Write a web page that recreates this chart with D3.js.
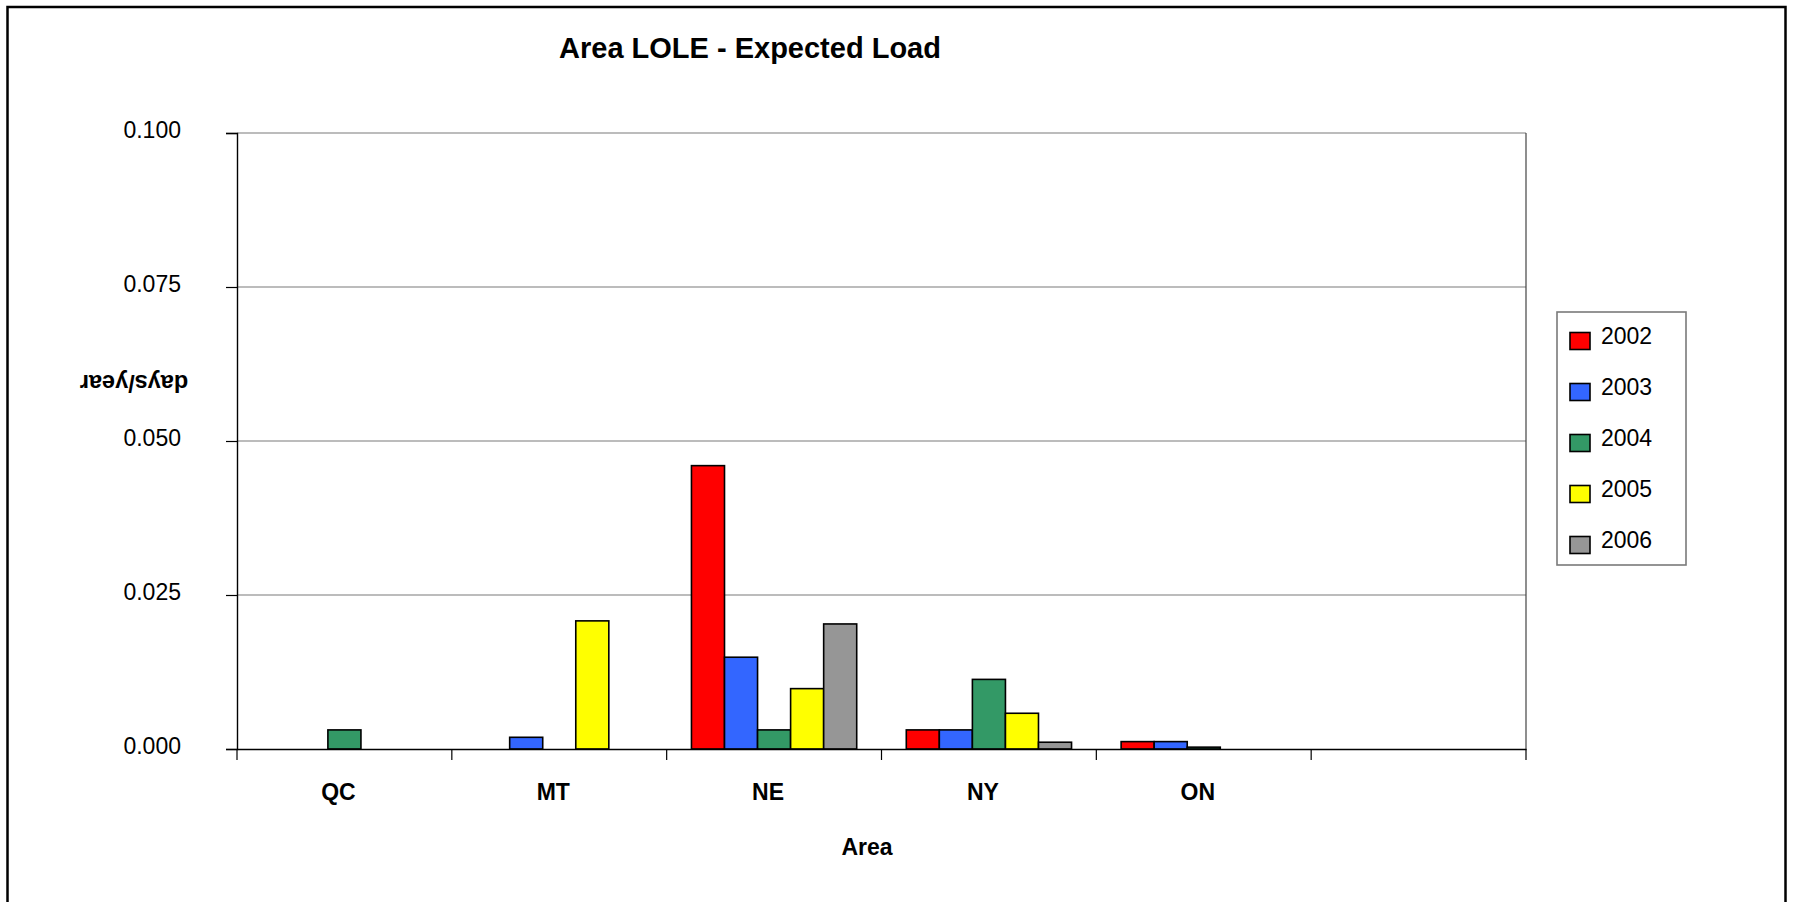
<!DOCTYPE html>
<html>
<head>
<meta charset="utf-8">
<script src="https://cdn.jsdelivr.net/npm/d3@7"></script>
<style>
  html, body { margin: 0; padding: 0; background: #fff; }
  svg { display: block; font-family: "Liberation Sans", Arial, sans-serif; }
</style>
</head>
<body>
<svg id="chart" width="1794" height="902"></svg>
<script>
// ---- data ----
const categories = ["QC", "MT", "NE", "NY", "ON", " "];
const seriesNames = ["2002", "2003", "2004", "2005", "2006"];
const s2002 = [0, 0, 0.0460, 0.0031, 0.0012, null];
const s2003 = [0, 0.0019, 0.0149, 0.0031, 0.0012, null];
const s2004 = [0.0031, 0, 0.0031, 0.0113, 0.0003, null];
const s2005 = [0, 0.0208, 0.0098, 0.0058, 0, null];
const s2006 = [0, 0, 0.0203, 0.0011, 0, null];
const yTicks = [0, 0.025, 0.05, 0.075, 0.1];
const colors = ["#FF0000", "#3366FF", "#339966", "#FFFF00", "#969696"];

const seriesValues = [s2002, s2003, s2004, s2005, s2006];

// ---- layout ----
const svg = d3.select("#chart");
const plot = { left: 237, right: 1526, top: 133, bottom: 749 };

// outer border
svg.append("rect")
  .attr("x", 7.5).attr("y", 7).attr("width", 1778).attr("height", 910)
  .attr("fill", "#fff").attr("stroke", "#000").attr("stroke-width", 2.5);

const x = d3.scaleBand().domain(categories).range([plot.left, plot.right]).paddingInner(0).paddingOuter(0);
const xs = d3.scaleBand().domain(seriesNames).range([0, x.bandwidth()]).paddingInner(0).paddingOuter(0.75);
const y = d3.scaleLinear().domain([0, 0.1]).range([plot.bottom, plot.top]);

// gridlines
svg.append("g").selectAll("line").data(yTicks.filter(d => d > 0)).join("line")
  .attr("x1", plot.left).attr("x2", plot.right)
  .attr("y1", d => y(d)).attr("y2", d => y(d))
  .attr("stroke", "#7a7a7a").attr("stroke-width", 1.2);

// plot right border
svg.append("line")
  .attr("x1", plot.right).attr("x2", plot.right)
  .attr("y1", plot.top).attr("y2", plot.bottom)
  .attr("stroke", "#444").attr("stroke-width", 1.2);

// bars
const barData = [];
seriesNames.forEach((s, si) => {
  categories.forEach((c, ci) => {
    const v = seriesValues[si][ci];
    if (v) barData.push({ cat: c, series: s, value: v, color: colors[si] });
  });
});
svg.append("g").selectAll("rect").data(barData).join("rect")
  .attr("x", d => x(d.cat) + xs(d.series))
  .attr("y", d => y(d.value))
  .attr("width", xs.bandwidth())
  .attr("height", d => y(0) - y(d.value))
  .attr("fill", d => d.color)
  .attr("stroke", "#000").attr("stroke-width", 1.6);

// y axis
const yAxis = d3.axisLeft(y).tickValues(yTicks).tickFormat(d3.format(".3f")).tickSize(11).tickPadding(45);
const gy = svg.append("g").attr("transform", `translate(${plot.left},0)`).call(yAxis);
gy.select(".domain").attr("stroke", "#000").attr("stroke-width", 1.4);
gy.selectAll(".tick line").attr("stroke", "#000").attr("stroke-width", 1.2);
gy.selectAll(".tick text").attr("font-size", 23).attr("fill", "#000")
  .attr("font-family", "'Liberation Sans', Arial, sans-serif").attr("dy", "0.2em");

// x axis
const xAxis = d3.axisBottom(x).tickSize(0).tickFormat("");
const gx = svg.append("g").attr("transform", `translate(0,${plot.bottom})`).call(xAxis);
gx.select(".domain").attr("stroke", "#000").attr("stroke-width", 1.6);
// boundary ticks
const bounds = categories.map(c => x(c)).concat([plot.right]);
svg.append("g").selectAll("line").data(bounds).join("line")
  .attr("x1", d => d).attr("x2", d => d)
  .attr("y1", plot.bottom).attr("y2", plot.bottom + 11)
  .attr("stroke", "#000").attr("stroke-width", 1.2);
// category labels
svg.append("g").selectAll("text").data(categories).join("text")
  .attr("x", d => x(d) + x.bandwidth() / 2 - 6)
  .attr("y", 800)
  .attr("text-anchor", "middle")
  .attr("font-size", 23).attr("font-weight", "bold")
  .text(d => d.trim());

// axis titles
svg.append("text").attr("x", 867).attr("y", 855).attr("text-anchor", "middle")
  .attr("font-size", 23).attr("font-weight", "bold").text("Area");
svg.append("text")
  .attr("transform", "translate(134,382) rotate(180)")
  .attr("text-anchor", "middle").attr("dy", "0.3em")
  .attr("font-size", 23.5).attr("font-weight", "bold").text("days/year");

// title
svg.append("text").attr("x", 750).attr("y", 58).attr("text-anchor", "middle")
  .attr("font-size", 29).attr("font-weight", "bold").text("Area LOLE - Expected Load");

// legend
const lg = svg.append("g");
lg.append("rect").attr("x", 1557).attr("y", 312).attr("width", 129).attr("height", 253)
  .attr("fill", "#fff").attr("stroke", "#7a7a7a").attr("stroke-width", 1.6);
const items = lg.selectAll("g.item").data(seriesNames).join("g").attr("class", "item")
  .attr("transform", (d, i) => `translate(0,${341 + i * 51})`);
items.append("rect").attr("x", 1570).attr("y", -8.5).attr("width", 20).attr("height", 17)
  .attr("fill", (d, i) => colors[i]).attr("stroke", "#000").attr("stroke-width", 1.6);
items.append("text").attr("x", 1601).attr("y", 3)
  .attr("font-size", 23).text(d => d);
</script>
</body>
</html>
